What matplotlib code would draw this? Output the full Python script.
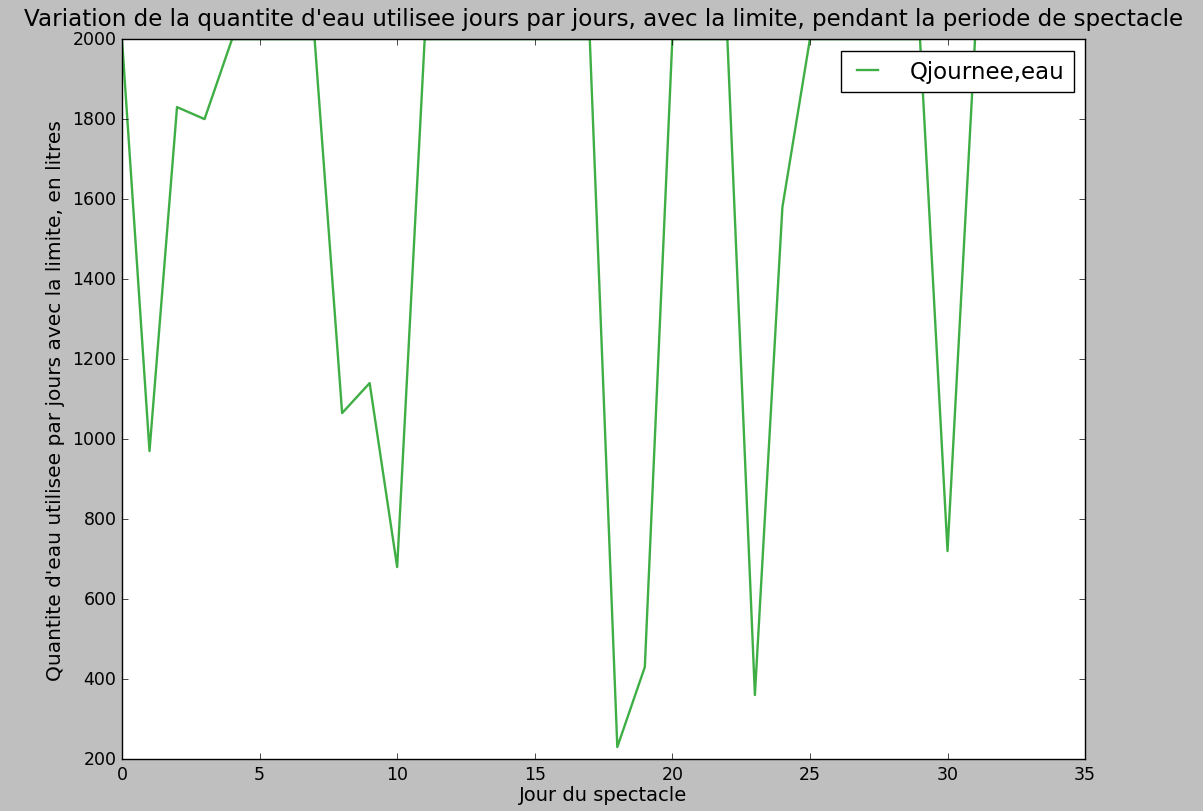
import matplotlib
matplotlib.use("Agg")
import matplotlib.pyplot as plt

# daily water quantity, capped at the 2000 L limit
jours = list(range(0, 32))
quantite = [2000, 970, 1830, 1800, 2000, 2000, 2000, 2000, 1065, 1140,
            680, 2000, 2000, 2000, 2000, 2000, 2000, 2000, 230, 430,
            2000, 2000, 2000, 360, 1580, 2000, 2000, 2000, 2000, 2000,
            720, 2000]

plt.style.use("classic")
plt.rcParams["font.family"] = ["DejaVu Sans"]

fig = plt.figure(figsize=(12.03, 8.12), dpi=100, facecolor="#bfbfbf")
ax = fig.add_axes([0.1014, 0.064, 0.8006, 0.8866])

ax.plot(jours, quantite, color="#3fae45", lw=1.7, label="Qjournee,eau")
ax.set_xlim(0, 35)
ax.set_ylim(200, 2000)
ax.tick_params(labelsize=12.5)

ax.set_title("Variation de la quantite d'eau utilisee jours par jours, avec la limite, pendant la periode de spectacle",
             fontsize=16.6, pad=10)
ax.set_xlabel("Jour du spectacle", fontsize=14, labelpad=2)
ax.set_ylabel("Quantite d'eau utilisee par jours avec la limite, en litres", fontsize=14.5)
ax.legend(loc="upper right", fontsize=16.5, handlelength=1.5, handletextpad=1.1,
          borderaxespad=0.5)

fig.savefig("out.png", dpi=100, facecolor=fig.get_facecolor())
